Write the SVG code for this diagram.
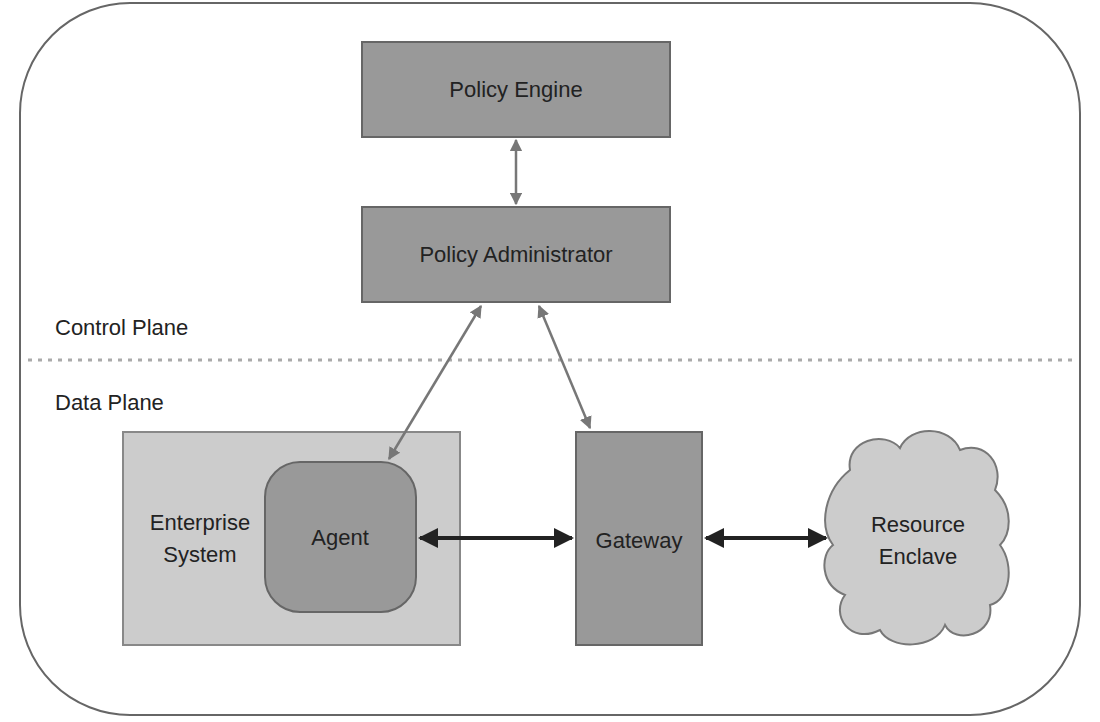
<svg xmlns="http://www.w3.org/2000/svg" width="1100" height="722" viewBox="0 0 1100 722">
<style>
text{font-family:"Liberation Sans",Arial,sans-serif;font-size:22px;fill:#222}
.box{fill:#999;stroke:#666;stroke-width:2}
.g{stroke:#777;stroke-width:2.5;fill:none}
.b{stroke:#222;stroke-width:4;fill:none}
</style>
<defs>
<marker id="ag" viewBox="0 0 10 10" refX="9" refY="5" markerWidth="5" markerHeight="5" orient="auto-start-reverse"><path d="M0,0L10,5L0,10Z" fill="#777"/></marker>
<marker id="ab" viewBox="0 0 10 10" refX="9" refY="5" markerWidth="5" markerHeight="5" orient="auto-start-reverse"><path d="M0,0L10,5L0,10Z" fill="#222"/></marker>
</defs>
<rect x="20" y="3" width="1060" height="712" rx="110" fill="#fff" stroke="#666" stroke-width="2"/>
<line x1="28" y1="360" x2="1078" y2="360" stroke="#aaa" stroke-width="3" stroke-dasharray="4,6"/>
<text x="55" y="335">Control Plane</text>
<text x="55" y="410">Data Plane</text>
<g id="policy-engine"><rect class="box" x="362" y="42" width="308" height="95"/><text x="516" y="97" text-anchor="middle">Policy Engine</text></g>
<g id="policy-administrator"><rect class="box" x="362" y="207" width="308" height="95"/><text x="516" y="262" text-anchor="middle">Policy Administrator</text></g>
<g id="enterprise-system"><rect x="123" y="432" width="337" height="213" fill="#ccc" stroke="#888" stroke-width="2"/><text x="200" y="530" text-anchor="middle">Enterprise</text><text x="200" y="562" text-anchor="middle">System</text></g>
<g id="agent"><rect class="box" x="265" y="462" width="151" height="150" rx="35"/><text x="340" y="545" text-anchor="middle">Agent</text></g>
<g id="gateway"><rect class="box" x="576" y="432" width="126" height="213"/><text x="639" y="548" text-anchor="middle">Gateway</text></g>
<g id="resource-enclave"><path d="M850,470 C845,440 885,430 900,448 C910,425 950,425 960,450 C985,440 1005,465 995,490 C1015,510 1010,535 1000,545 C1015,565 1010,600 990,605 C995,635 955,645 945,625 C935,650 890,650 880,630 C850,645 830,615 845,595 C820,585 820,555 833,545 C818,525 825,490 850,470 Z" fill="#ccc" stroke="#777" stroke-width="2"/><text x="918" y="532" text-anchor="middle">Resource</text><text x="918" y="564" text-anchor="middle">Enclave</text></g>
<g id="connectors">
<line class="g" x1="516" y1="140" x2="516" y2="204" marker-start="url(#ag)" marker-end="url(#ag)"/>
<line class="g" x1="481" y1="306" x2="389" y2="459" marker-start="url(#ag)" marker-end="url(#ag)"/>
<line class="g" x1="539" y1="306" x2="590" y2="428" marker-start="url(#ag)" marker-end="url(#ag)"/>
<line class="b" x1="420" y1="538" x2="572" y2="538" marker-start="url(#ab)" marker-end="url(#ab)"/>
<line class="b" x1="706" y1="538" x2="826" y2="538" marker-start="url(#ab)" marker-end="url(#ab)"/>
</g>
</svg>
